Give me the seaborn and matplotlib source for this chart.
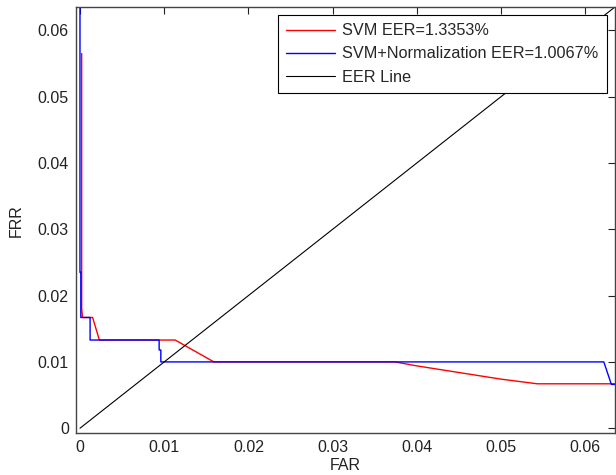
import numpy as np
import pandas as pd
import matplotlib
matplotlib.use("Agg")
import matplotlib.pyplot as plt
import seaborn as sns

# values
svm_far = [0.0002, 0.0002, 0.0003, 0.0015, 0.0023, 0.0113, 0.0159, 0.0374,
           0.0400, 0.0450, 0.0500, 0.0543, 0.0635]
svm_frr = [0.0565, 0.0181, 0.0167, 0.0167, 0.0133, 0.0133, 0.0100, 0.0100,
           0.0094, 0.0084, 0.0074, 0.0067, 0.0067]

norm_far = [0.0000, 0.0000, 0.0001, 0.0001, 0.0012, 0.0012, 0.0094, 0.0094,
            0.0096, 0.0096, 0.0622, 0.0631, 0.0635]
norm_frr = [0.0700, 0.0235, 0.0235, 0.0167, 0.0167, 0.0133, 0.0133, 0.0118,
            0.0118, 0.0100, 0.0100, 0.0066, 0.0066]

eer_line = [0.0, 0.07]

tick_vals = [0, 0.01, 0.02, 0.03, 0.04, 0.05, 0.06]
tick_labels = ["0", "0.01", "0.02", "0.03", "0.04", "0.05", "0.06"]

labels = ["SVM EER=1.3353%", "SVM+Normalization EER=1.0067%", "EER Line"]

sns.set_theme(style="white")
plt.rcParams["font.family"] = ["Liberation Sans", "DejaVu Sans"]

df_svm = pd.DataFrame({"FAR": svm_far, "FRR": svm_frr})
df_norm = pd.DataFrame({"FAR": norm_far, "FRR": norm_frr})
df_eer = pd.DataFrame({"FAR": eer_line, "FRR": eer_line})

fig = plt.figure(figsize=(6.16, 4.75), dpi=100)
ax = fig.add_axes([0.123, 0.088, 0.875, 0.897])

sns.lineplot(data=df_svm, x="FAR", y="FRR", sort=False, estimator=None,
             color="#ff0000", linewidth=1.0, label=labels[0], ax=ax)
sns.lineplot(data=df_norm, x="FAR", y="FRR", sort=False, estimator=None,
             color="#0000ff", linewidth=1.0, label=labels[1], ax=ax)
sns.lineplot(data=df_eer, x="FAR", y="FRR", sort=False, estimator=None,
             color="black", linewidth=0.8, label=labels[2], ax=ax)

ax.set_xlim(-0.0005, 0.0635)
ax.set_ylim(-0.00075, 0.0635)
ax.set_xticks(tick_vals)
ax.set_xticklabels(tick_labels)
ax.set_yticks(tick_vals)
ax.set_yticklabels(tick_labels)
ax.tick_params(direction="in", length=5, width=0.8, top=True, right=True,
               labelsize=11.5, colors="#222222", labelcolor="#222222", pad=5)
for s in ax.spines.values():
    s.set_color("#444444")
    s.set_linewidth(1.0)

ax.set_xlabel("FAR", fontsize=11.5, color="#222222", labelpad=2)
ax.set_ylabel("FRR", fontsize=11.5, color="#222222", labelpad=10)

leg = ax.legend(loc="upper right", fontsize=11.7, frameon=True, fancybox=False,
                edgecolor="black", framealpha=1, borderaxespad=0.5,
                handlelength=3.0, handletextpad=0.45, labelspacing=0.5,
                borderpad=0.5)
leg.get_frame().set_linewidth(0.8)

fig.savefig("out.png", dpi=100)
